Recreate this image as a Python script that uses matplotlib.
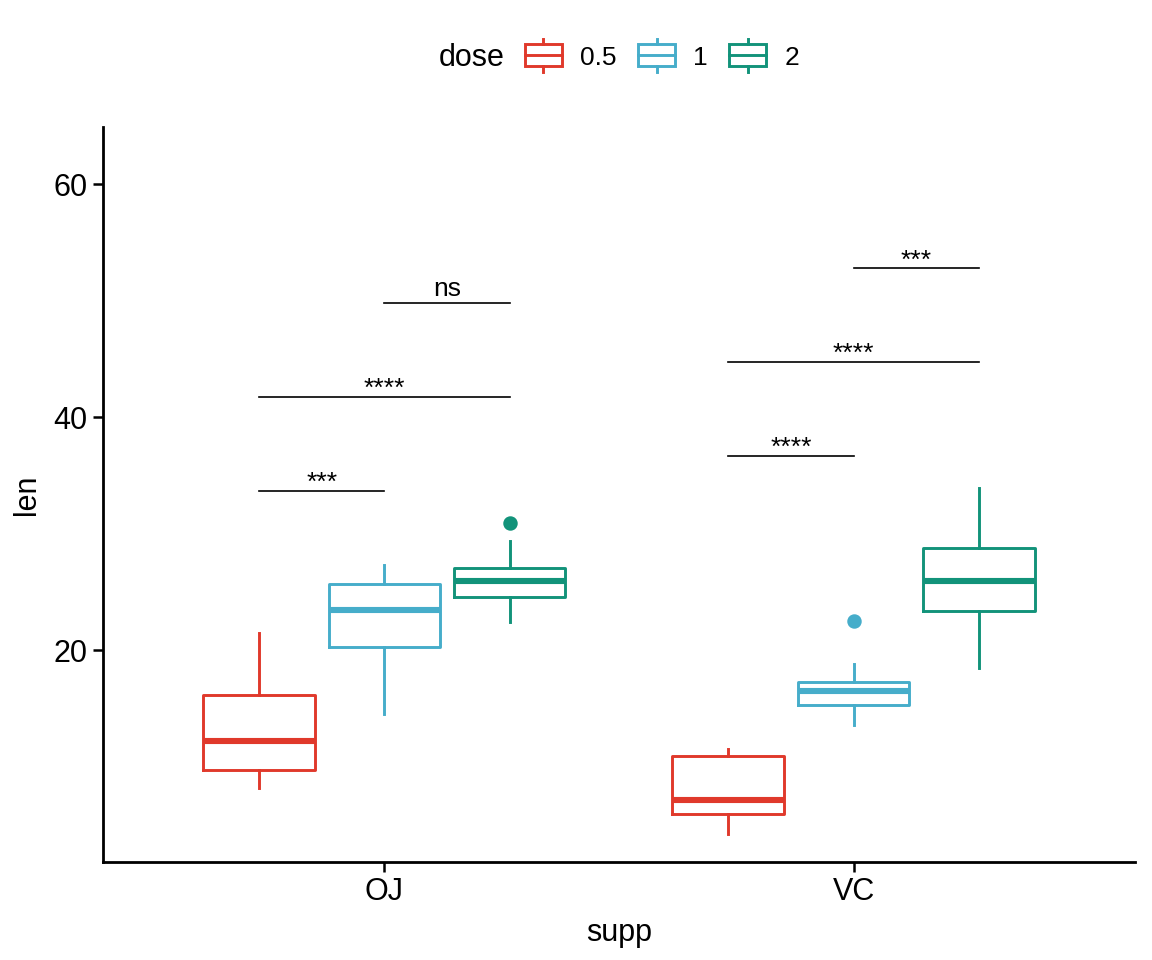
import numpy as np
import matplotlib.pyplot as plt
from matplotlib.legend_handler import HandlerBase
from matplotlib.patches import Rectangle
from matplotlib.lines import Line2D

plt.rcParams['font.family'] = ['Liberation Sans', 'DejaVu Sans']

# data (ToothGrowth)
supp = ['OJ', 'VC']
doses = ['0.5', '1', '2']
colors = ['#E0392B', '#46ADCA', '#12937A']

# rows: supp, columns: dose
q1 = [[9.7, 20.3, 24.575], [5.95, 15.275, 23.375]]
med = [[12.25, 23.45, 25.95], [7.15, 16.5, 25.95]]
q3 = [[16.175, 25.65, 27.075], [10.9, 17.3, 28.8]]
wlo = [[8.2, 14.5, 22.4], [4.2, 13.6, 18.5]]
whi = [[21.5, 27.3, 29.4], [11.5, 18.8, 33.9]]
fliers = [[[], [], [30.9]], [[], [22.5], []]]

# pairwise comparisons: supp index, dose from, dose to, bracket height, label
cmp_supp = [0, 0, 0, 1, 1, 1]
cmp_a = [0, 0, 1, 0, 0, 1]
cmp_b = [1, 2, 2, 1, 2, 2]
cmp_y = [33.7, 41.75, 49.8, 36.7, 44.75, 52.8]
cmp_lab = ['***', '****', 'ns', '****', '****', '***']

offsets = [-0.267, 0.0, 0.267]

fig = plt.figure(figsize=(5.76, 4.8), dpi=200)
ax = fig.add_axes([0.0894, 0.1021, 0.8958, 0.7656])

for i in range(len(supp)):
    for j in range(len(doses)):
        c = colors[j]
        st = dict(q1=q1[i][j], med=med[i][j], q3=q3[i][j],
                  whislo=wlo[i][j], whishi=whi[i][j], fliers=fliers[i][j])
        ax.bxp([st], positions=[i + 1 + offsets[j]], widths=0.238,
               showcaps=False, manage_ticks=False,
               boxprops=dict(color=c, lw=1.05),
               whiskerprops=dict(color=c, lw=1.05),
               medianprops=dict(color=c, lw=2.2, solid_capstyle='butt'),
               flierprops=dict(marker='o', markerfacecolor=c,
                               markeredgecolor=c, markersize=4.2))

# significance brackets
for k in range(len(cmp_lab)):
    x1 = cmp_supp[k] + 1 + offsets[cmp_a[k]]
    x2 = cmp_supp[k] + 1 + offsets[cmp_b[k]]
    y = cmp_y[k]
    ax.plot([x1, x2], [y, y], color='black', lw=0.6)
    if cmp_lab[k] == 'ns':
        ax.text((x1 + x2) / 2, y + 0.6, cmp_lab[k], ha='center',
                va='baseline', fontsize=9.5)
    else:
        ax.text((x1 + x2) / 2, y + 0.05, cmp_lab[k], ha='center',
                va='baseline', fontsize=9.5)

ax.set_xlim(0.4, 2.6)
ax.set_ylim(1.84, 64.9)
ax.set_xticks([1, 2])
ax.set_xticklabels(supp)
ax.set_yticks([20, 40, 60])
ax.tick_params(labelsize=11, length=3.5, width=0.9, pad=2, colors='black')
for s in ['top', 'right']:
    ax.spines[s].set_visible(False)
for s in ['left', 'bottom']:
    ax.spines[s].set_linewidth(1.0)
ax.set_xlabel('supp', fontsize=11, labelpad=4)
ax.set_ylabel('len', fontsize=11, labelpad=4)


class BoxHandler(HandlerBase):
    def create_artists(self, legend, orig_handle, xdescent, ydescent,
                       width, height, fontsize, trans):
        c = orig_handle.get_color()
        cy = height / 2 - ydescent
        bh = height * 1.2
        box = Rectangle((-xdescent, cy - bh / 2), width, bh, fill=False,
                        edgecolor=c, lw=1.05, transform=trans)
        mid = Line2D([-xdescent, -xdescent + width], [cy, cy], color=c,
                     lw=1.05, transform=trans)
        xm = -xdescent + width / 2
        w1 = Line2D([xm, xm], [cy + bh / 2, cy + bh * 0.75], color=c,
                    lw=1.05, transform=trans)
        w2 = Line2D([xm, xm], [cy - bh / 2, cy - bh * 0.75], color=c,
                    lw=1.05, transform=trans)
        return [box, mid, w1, w2]


handles = [Line2D([], [], color=c) for c in colors]
fig.text(505 / 1152, 0.94, 'dose', ha='right', va='center', fontsize=11)
fig.legend(handles, doses, loc='center left',
           bbox_to_anchor=(525 / 1152, 0.94), ncol=3, frameon=False,
           fontsize=9.5, borderpad=0, borderaxespad=0, handlelength=1.4,
           handletextpad=0.7, columnspacing=0.8,
           handler_map={Line2D: BoxHandler()})

fig.savefig('out.png', dpi=200)
